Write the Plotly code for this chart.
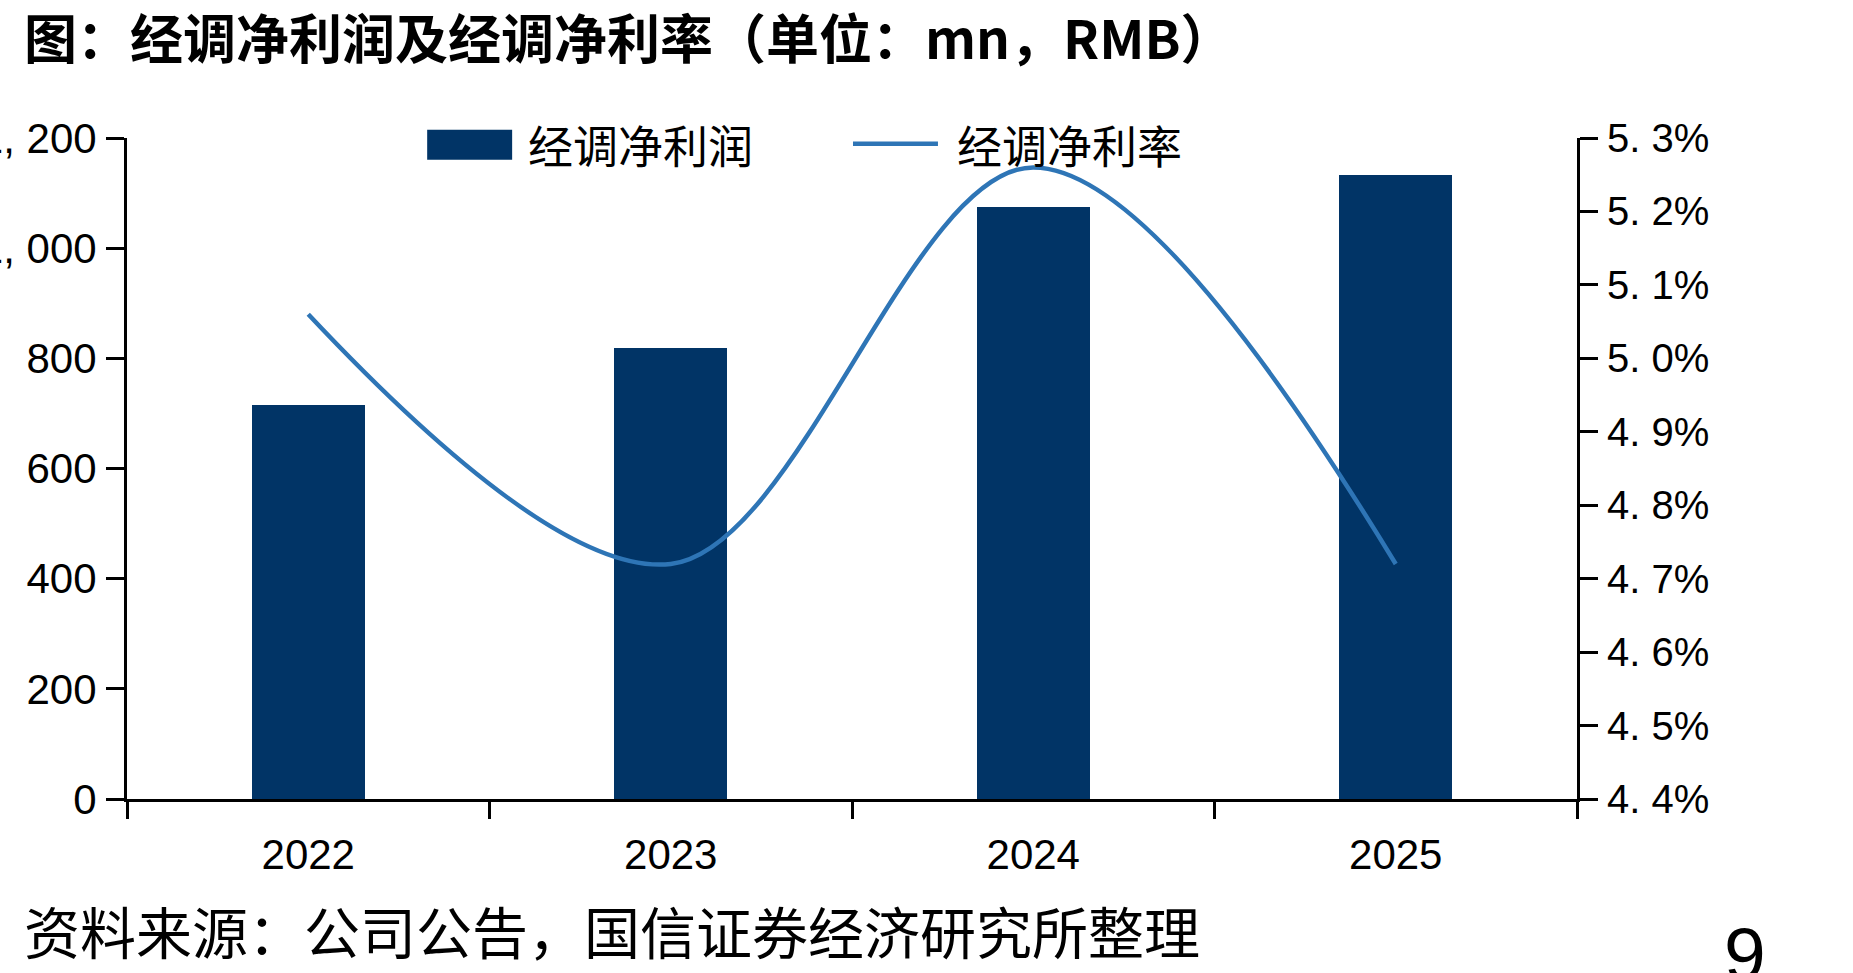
import plotly.graph_objects as go

years = ["2022", "2023", "2024", "2025"]
adj_net_profit = [715, 819, 1075, 1133]          # mn RMB
adj_net_margin = [5.06, 4.72, 5.26, 4.72]        # %

left_tickvals = [0, 200, 400, 600, 800, 1000, 1200]
left_ticktext = ["0", "200", "400", "600", "800", "1, 000", "1, 200"]
right_tickvals = [4.4, 4.5, 4.6, 4.7, 4.8, 4.9, 5.0, 5.1, 5.2, 5.3]
right_ticktext = ["4. 4%", "4. 5%", "4. 6%", "4. 7%", "4. 8%", "4. 9%", "5. 0%", "5. 1%", "5. 2%", "5. 3%"]

bar_name = "经调净利润"
line_name = "经调净利率"
title_text = "图：经调净利润及经调净利率（单位：mn，RMB）"
source_text = "资料来源：公司公告，国信证券经济研究所整理"
page_no = "9"

BAR_COLOR = "#013466"
LINE_COLOR = "#2E75B6"
CJK = "Noto Sans CJK SC"
LAT = "Liberation Sans, Arial, sans-serif"

W, H = 1853, 973
L, R, T, B = 126.7, 1853 - 1577.3, 138.3, 973 - 799.3
PW, PH = W - L - R, H - T - B


def px(x):
    return (x - L) / PW


def py(y):
    return (H - B - y) / PH


fig = go.Figure()
fig.add_trace(go.Bar(x=years, y=adj_net_profit, name=bar_name, marker_color=BAR_COLOR,
                     width=0.312, showlegend=False))
fig.add_trace(go.Scatter(x=years, y=adj_net_margin, name=line_name, yaxis="y2", mode="lines",
                         line=dict(color=LINE_COLOR, width=4.5, shape="spline", smoothing=1.0),
                         showlegend=False))

axis_common = dict(showgrid=False, zeroline=False, showline=True, linecolor="black",
                   linewidth=3, ticks="outside", tickcolor="black", tickwidth=3,
                   automargin=False)

fig.update_layout(
    width=W, height=H, template="none",
    paper_bgcolor="white", plot_bgcolor="white",
    margin=dict(l=L, r=R, t=T, b=B, pad=0),
    bargap=0,
    xaxis=dict(**axis_common, type="category", range=[-0.5, 3.5], tickson="boundaries",
               ticklen=17, ticklabelstandoff=17,
               tickfont=dict(family=LAT, size=42, color="black")),
    yaxis=dict(**axis_common, range=[0, 1200], tickvals=left_tickvals, ticktext=left_ticktext,
               ticklen=18, ticklabelstandoff=1,
               tickfont=dict(family=LAT, size=42, color="black")),
    yaxis2=dict(**axis_common, overlaying="y", side="right", range=[4.4, 5.3],
                tickvals=right_tickvals, ticktext=right_ticktext, ticklen=18,
                ticklabelstandoff=1,
                tickfont=dict(family=LAT, size=40, color="black")),
    showlegend=False,
)

# manual legend (large swatches as in the reference)
fig.add_shape(type="rect", xref="paper", yref="paper",
              x0=px(427), x1=px(512), y0=py(160), y1=py(130),
              fillcolor=BAR_COLOR, line=dict(width=0))
fig.add_shape(type="line", xref="paper", yref="paper",
              x0=px(853), x1=px(938), y0=py(144), y1=py(144),
              line=dict(color=LINE_COLOR, width=4.5))

annos = [
    dict(text=bar_name, x=px(526), y=py(145), xanchor="left", yanchor="middle",
         font=dict(family=CJK, size=45, color="black")),
    dict(text=line_name, x=px(955), y=py(145), xanchor="left", yanchor="middle",
         font=dict(family=CJK, size=45, color="black")),
    dict(text="<b>" + title_text + "</b>", x=px(22), y=py(36), xanchor="left", yanchor="middle",
         font=dict(family=CJK, size=53, color="black")),
    dict(text=source_text, x=px(22), y=py(930), xanchor="left", yanchor="middle",
         font=dict(family=CJK, size=56, color="black")),
    dict(text=page_no, x=px(1745), y=py(954), xanchor="center", yanchor="middle",
         font=dict(family=LAT, size=75, color="black")),
]
for a in annos:
    fig.add_annotation(xref="paper", yref="paper", showarrow=False, **a)

fig.write_html("out.html")
